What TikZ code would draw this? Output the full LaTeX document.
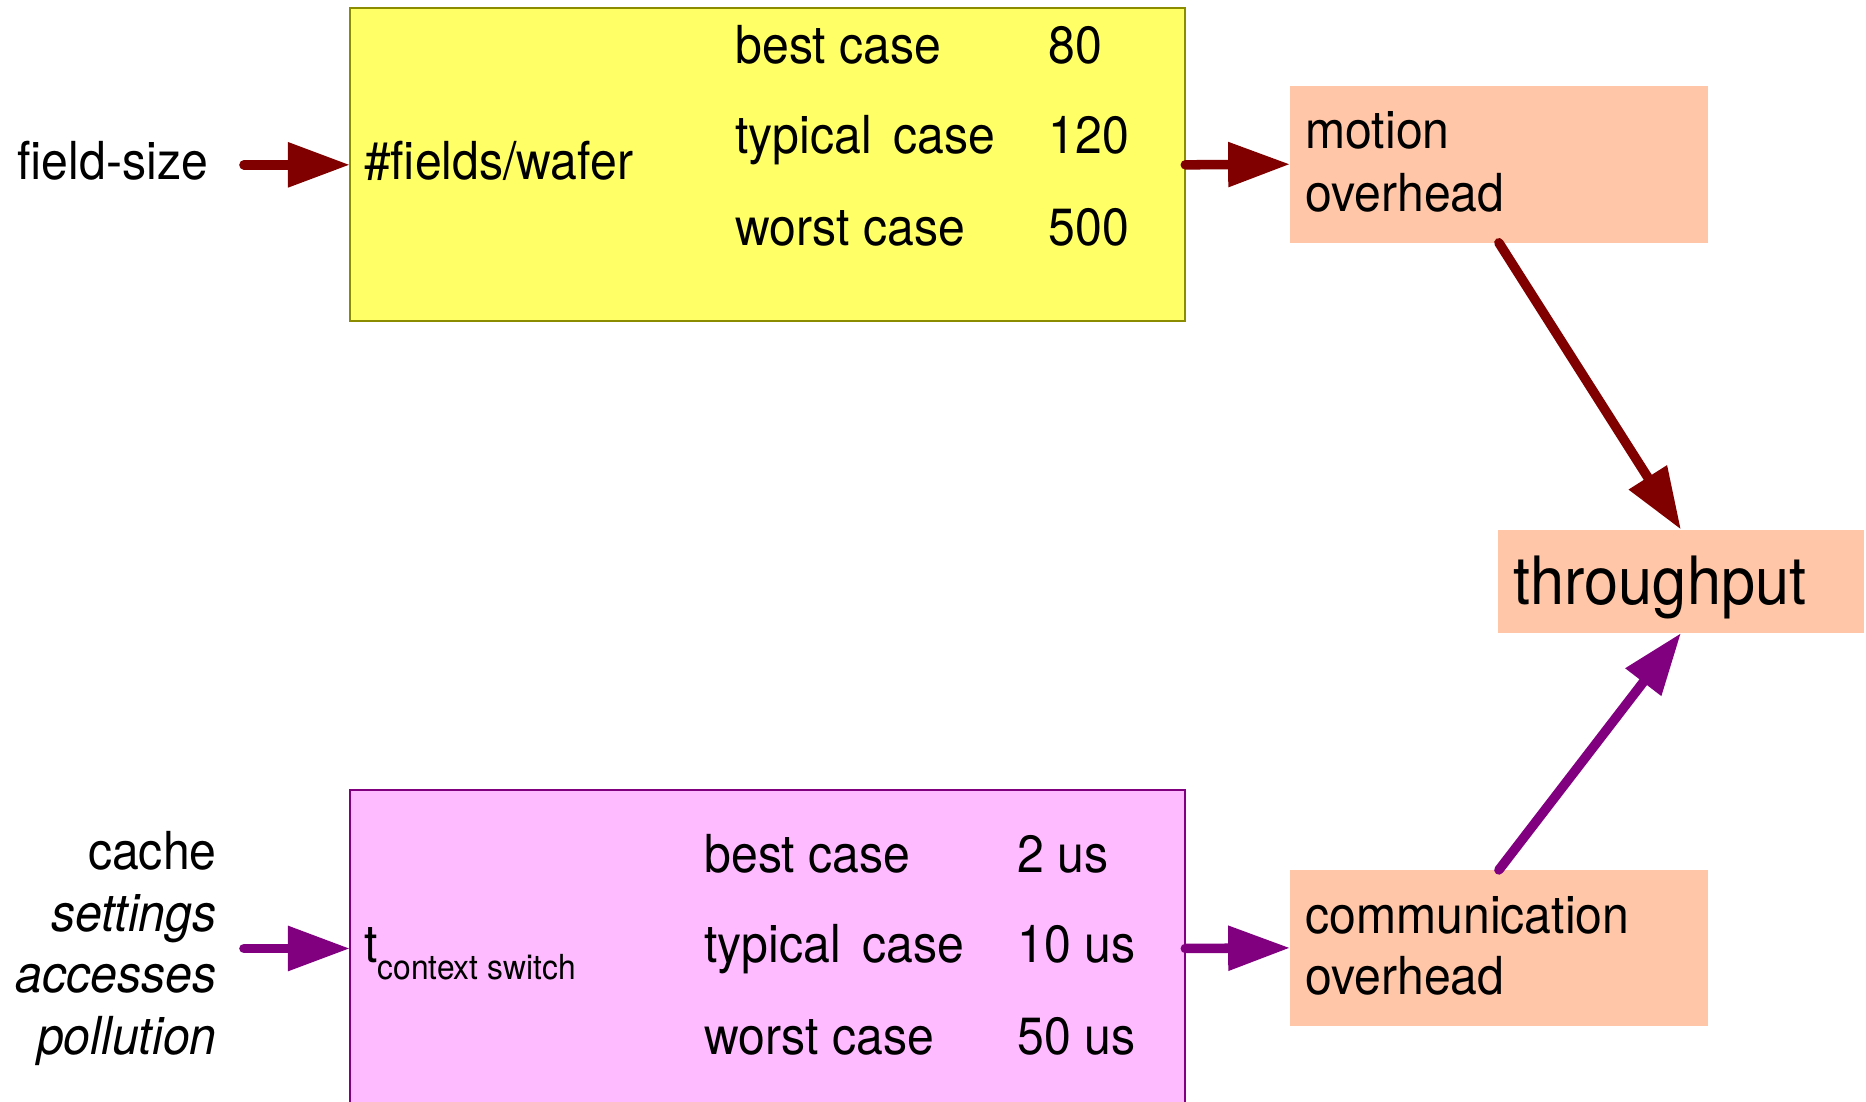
\documentclass[tikz,border=0pt]{standalone}
\usepackage{fontspec}
\setmainfont{TeX Gyre Heros}[FakeStretch=0.92]
\usetikzlibrary{arrows.meta}
\definecolor{arrred}{HTML}{800000}
\definecolor{arrpurple}{HTML}{800080}
\definecolor{yfill}{HTML}{FFFF66}
\definecolor{yborder}{HTML}{8C8C00}
\definecolor{mfill}{HTML}{FFBBFF}
\definecolor{mborder}{HTML}{800080}
\definecolor{peach}{HTML}{FFC6A8}
\begin{document}
\begin{tikzpicture}[x=1pt,y=-1pt,
  boxbase/.style={inner sep=0pt, outer sep=0pt, anchor=north west},
  ybox/.style={boxbase, fill=yfill, draw=yborder, line width=1.5pt},
  mbox/.style={boxbase, fill=mfill, draw=mborder, line width=1.5pt},
  pbox/.style={boxbase, fill=peach, draw=none},
  txt/.style={inner sep=0pt, outer sep=0pt, anchor=base west, font=\fontsize{44}{52}\selectfont},
  rtxt/.style={txt, anchor=base east},
  bigtxt/.style={txt, font=\fontsize{56}{60}\selectfont},
  arrbase/.style={line width=8pt, line cap=round, -{Triangle[length=52pt,width=36pt]}},
  arR/.style={arrbase, draw=arrred, fill=arrred},
  arP/.style={arrbase, draw=arrpurple, fill=arrpurple}
]
\useasboundingbox (0,0) rectangle (1568,926);

% boxes
\node[ybox, minimum width=702pt, minimum height=263pt] (yb) at (294,7) {};
\node[mbox, minimum width=702pt, minimum height=266pt] (mb) at (294,664) {};
\node[pbox, minimum width=351pt, minimum height=132pt] (mo) at (1084,72) {};
\node[pbox, minimum width=351pt, minimum height=131pt] (co) at (1084,731) {};
\node[pbox, minimum width=307pt, minimum height=87pt] (tp) at (1259,445) {};

% top texts
\node[txt] (fs) at (15,151) {field-size};
\node[txt] (fw) at (306,151) {\#fields/wafer};
\node[txt] (yb1) at (618,53) {best case};
\node[txt] (yb2) at (618,129) {typical\hspace{18pt}case};
\node[txt] (yb3) at (618,206) {worst case};
\node[txt] (yv1) at (881,53) {80};
\node[txt] (yv2) at (881,129) {120};
\node[txt] (yv3) at (881,206) {500};

\node[txt] (mo1) at (1097,125) {motion};
\node[txt] (mo2) at (1097,178) {overhead};
\node[bigtxt] (tpt) at (1272,508) {throughput};
\node[txt] (co1) at (1097,784) {communication};
\node[txt] (co2) at (1097,836) {overhead};

% bottom texts
\node[rtxt] (l1) at (182,731) {cache};
\node[rtxt] (l2) at (182,783) {\itshape settings};
\node[rtxt] (l3) at (182,834) {\itshape accesses};
\node[rtxt] (l4) at (182,886) {\itshape pollution};
\node[txt] (tcs) at (306,809) {t\raisebox{-14pt}{\fontsize{29}{30}\selectfont context switch}};
\node[txt] (mb1) at (592,733) {best case};
\node[txt] (mb2) at (592,809) {typical\hspace{18pt}case};
\node[txt] (mb3) at (592,886) {worst case};
\node[txt] (mv1) at (855,733) {2 us};
\node[txt] (mv2) at (855,809) {10 us};
\node[txt] (mv3) at (855,886) {50 us};

% connectors
\coordinate (s1) at (205,138.5);
\coordinate (s2) at (205,797);
\draw[arR] (s1) -- (yb.west);
\draw[arR] (yb.east) -- (mo.west);
\draw[arR] (mo.south) -- (tp.north);
\draw[arP] (s2) -- (mb.west);
\draw[arP] (mb.east) -- (co.west);
\draw[arP] (co.north) -- (tp.south);
\end{tikzpicture}
\end{document}
